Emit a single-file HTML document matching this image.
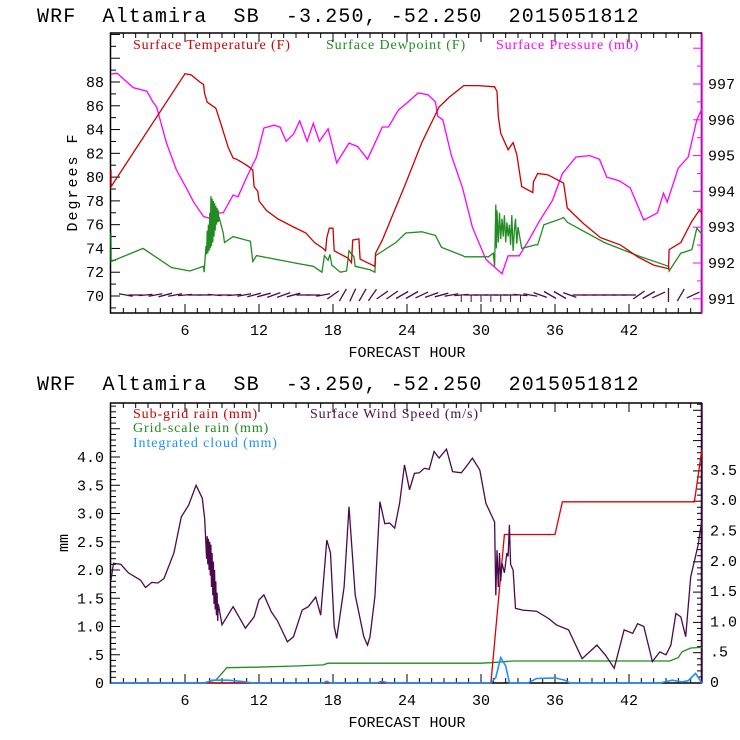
<!DOCTYPE html>
<html><head><meta charset="utf-8"><style>
html,body{margin:0;padding:0;background:#fff;width:740px;height:740px;overflow:hidden}
svg{display:block}
.t{font-family:"Liberation Mono",monospace;font-size:20px;fill:#000;white-space:pre;letter-spacing:1.1px}
.tk{font-family:"Liberation Mono",monospace;font-size:15px;fill:#000}
.lg{font-family:"Liberation Serif",serif;font-size:14px;letter-spacing:0.9px}
</style></head><body>
<svg id="c" width="740" height="740"></svg>
<script>
// ---- data (top panel) ----
const tempH=[0,0.01,6,6.5,7.2,7.5,7.6,7.8,8.5,8.9,9.5,9.9,10.2,11,11.5,11.6,11.9,12,12.6,13.5,14.8,15.8,16.5,17.2,17.4,17.5,17.7,18,18.1,19.2,19.5,19.6,20.1,20.2,21,21.4,21.45,22,23.9,25.2,26.6,27.4,28.6,29.8,31.1,31.3,31.4,31.6,32.2,32.6,32.9,33.3,34.2,34.25,34.6,35.4,36.7,37,38.3,39.7,41.3,42.7,44,45.2,45.25,46.2,47.1,47.7,47.9];
const tempV=[80.6,79.2,88.7,88.6,88,87.8,87,86.3,85.8,84.5,82.5,81.6,81.5,81,80.6,79.2,78.8,78,77.2,76.5,75.8,75.3,74.5,74,73.8,74.9,75.7,75.7,73.8,73.2,72.8,74.7,74.8,73.1,72.7,72.5,73.6,74.7,79.5,82.9,85.9,86.7,87.7,87.7,87.6,87.2,85.1,83.7,82.3,82.9,81.9,79.2,78.7,79.6,80.3,80.2,79.5,77.4,76.1,74.9,74.3,73.3,72.6,72.3,73.9,74.5,76.3,77.2,77];
const dewH=[0,0.01,2.6,4.9,6.4,7.5,7.55,7.7,7.75,7.8,7.85,7.9,7.95,8.0,8.05,8.1,8.15,8.2,8.25,8.3,8.35,8.4,8.45,8.5,8.55,8.6,8.65,8.7,8.75,8.8,9.1,9.2,9.9,11.3,11.5,11.8,15.3,16.4,17.1,17.3,17.6,17.75,17.9,18.6,19.1,19.3,19.7,19.8,21,21.4,21.45,23.1,23.9,25.2,26.3,26.8,28.5,28.7,30.6,31.0,31.1,31.2,31.25,31.3,31.4,31.5,31.6,31.7,31.8,31.9,32.0,32.1,32.2,32.3,32.4,32.5,32.6,32.7,32.8,32.9,33.0,33.3,34.4,34.6,35.1,36.5,36.7,37,40,42.7,45.2,45.25,46.2,47.1,47.5,47.9];
const dewV=[75.3,72.9,74.0,72.4,72.1,72.5,72.0,74.2,73.5,75.5,73.6,76,73.8,77,74,78.4,74.2,78.2,74.5,78,75,77.8,75.5,77.6,76,77.4,76.2,77.2,76.4,76.5,75.3,74.5,75,74.6,72.9,73.4,72.7,72.5,72,73.4,73,73.5,72.6,72,72.1,73.8,73.3,72.5,72.2,72.0,73.4,74.5,75.3,75.4,75.1,74.1,73.4,73.3,73.3,73.6,72.5,77.7,74,77.2,74.5,77,74.8,76.5,75,76.8,74.5,76.2,75,76,74.3,76.8,73.8,75.4,76.5,74.4,75.8,74,74.3,74.3,76,76.5,76.6,76.2,74.5,73.4,72.5,72.1,73.6,73.9,75.7,75.2,75.7];
const presH=[0,0.5,1.8,2.9,3.4,3.7,4.5,5.3,6.1,6.7,7.5,8.0,8.6,9.1,9.9,10.3,11.0,11.8,12.4,13.2,13.7,14.2,14.8,15.3,15.9,16.4,16.9,17.6,18.3,19.3,20,20.8,22,22.5,23.3,24.1,24.9,25.7,26.3,26.5,26.9,27.6,28.5,29.3,30.4,31.7,32.2,33.1,33.9,34.7,35.8,36.6,37.7,38.8,39.6,40.2,41.2,42.1,43.2,44.3,44.8,45.1,46,46.8,47.5,47.9];
const presV=[997.28,997.3,996.9,996.8,996.5,996.36,995.35,994.6,994.1,993.7,993.3,993.25,993.4,993.4,993.9,993.85,994.4,994.96,995.77,995.85,995.8,995.4,995.6,995.97,995.4,995.9,995.4,995.75,994.8,995.35,995.25,994.9,995.8,995.8,996.27,996.5,996.75,996.7,996.5,996.1,996.0,995.0,994.1,993.0,992.1,991.7,992.2,992.2,992.65,993.15,993.75,994.5,994.96,995.0,994.9,994.4,994.3,994.1,993.2,993.4,993.95,993.7,994.65,994.96,996.0,996.3];
const barbH=[1.2,2,2.8,3.6,4.4,5.2,6,6.8,7.6,8.4,9.2,10,10.8,11.6,12.4,13.2,14,14.8,15.6,16.4,17.2,18,18.8,19.6,20.4,21.2,22,22.8,23.6,24.4,25.2,26,26.8,27.6,28.4,29.2,30,30.8,31.6,32.4,33.2,34,34.8,35.6,36.4,37.2,38,38.8,39.6,40.4,41.2,42,42.8,43.6,44.4,45.2,46.2,47.2];
const barbA=[-10,0,5,10,15,10,5,0,0,-5,0,5,10,15,15,20,20,15,0,0,10,35,60,65,60,55,35,35,30,30,25,20,15,10,5,0,0,0,0,0,-5,-10,-20,-30,-30,-20,0,0,0,0,0,0,35,30,25,90,60,25];
// ---- data (bottom panel) ----
const windH=[0,0.2,0.8,1.4,2.4,2.8,3.3,3.8,4.3,5.1,5.7,6.3,6.9,7.4,7.6,7.75,7.8,7.85,7.9,7.95,8.0,8.05,8.1,8.15,8.2,8.25,8.3,8.35,8.4,8.45,8.5,8.55,8.6,8.65,8.7,9.0,9.9,10.9,11.6,12.0,12.4,13,13.5,14.3,14.8,15.5,16,16.6,17,17.5,17.8,18.1,18.3,18.9,19.3,19.8,20.5,20.8,21.0,21.4,21.8,22.2,22.6,23,23.4,23.8,24.2,24.6,25,25.4,25.8,26.2,26.6,27.2,27.7,28.4,28.8,29.3,29.9,30.4,31.1,31.2,31.3,31.4,31.5,31.6,31.7,31.9,32.1,32.2,32.3,32.4,32.6,32.8,33.4,34.5,35.5,36.1,37.1,38.2,39.4,40.1,40.8,41.6,42.3,42.7,43.2,43.9,44.5,45,45.4,45.8,46.2,46.6,47,47.6,47.9];
const windV=[1.82,2.12,2.1,1.95,1.82,1.69,1.78,1.77,1.85,2.3,2.94,3.15,3.5,3.27,2.9,2.2,2.6,2.1,2.55,2.0,2.5,1.9,2.45,1.7,2.3,1.55,2.15,1.4,2.0,1.3,1.8,1.2,1.6,1.1,1.4,1.03,1.35,0.97,1.17,1.47,1.56,1.26,1.1,0.73,0.82,1.29,1.35,1.52,1.2,2.53,2.3,1.0,0.79,1.7,3.12,1.56,0.82,0.67,0.82,1.53,3.21,2.82,2.83,2.74,3.18,3.86,3.42,3.71,3.72,3.8,3.78,4.1,3.98,4.14,3.74,3.72,3.83,3.98,3.77,3.18,2.85,1.55,2.35,1.7,2.3,1.8,2.12,1.95,2.3,2.24,2.8,2.1,2.0,1.32,1.29,1.27,1.14,1.03,0.94,0.43,0.67,0.49,0.26,0.94,0.88,1.05,1.0,0.38,0.55,0.5,0.67,1.23,1.17,0.82,1.88,2.44,2.88];
const subH=[0,30.8,31.9,36.0,36.6,47.3,47.9];
const subV=[0,0,2.45,2.45,2.99,2.99,3.85];
const gridH=[0,7.4,8.5,9.4,11.7,15,17.2,17.6,30,30.8,32.6,45.3,46,46.3,47,47.9];
const gridV=[0,0,0.05,0.27,0.28,0.3,0.32,0.35,0.35,0.36,0.39,0.39,0.45,0.55,0.62,0.63];
const cloudH=[0,7.6,8.2,9.5,10.5,11.6,17.2,17.5,17.8,21.5,22,22.5,30.8,31.2,31.6,32.0,32.3,33.8,34.5,36,36.8,37.2,44.5,45.5,46.3,46.8,47.4,47.9];
const cloudV=[0,0,0.05,0.05,0.03,0,0,0.03,0,0,0.03,0,0,0.1,0.45,0.3,0,0,0.08,0.09,0.05,0,0,0.05,0.02,0.04,0.17,0];
const tempTicks=[70,72,74,76,78,80,82,84,86,88];
const presTicks=[991,992,993,994,995,996,997];
const mmTicks=[0,0.5,1,1.5,2,2.5,3,3.5,4];
const mmLabels=["0",".5","1.0","1.5","2.0","2.5","3.0","3.5","4.0"];
const rTicks=[0,0.5,1,1.5,2,2.5,3,3.5];
const rLabels=["0",".5","1.0","1.5","2.0","2.5","3.0","3.5"];
const hourTicks=[6,12,18,24,30,36,42];

const NS="http://www.w3.org/2000/svg";
const svg=document.getElementById('c');
function el(tag,attrs,parent,txt){const e=document.createElementNS(NS,tag);for(const k in attrs)e.setAttribute(k,attrs[k]);if(txt!==undefined)e.textContent=txt;(parent||svg).appendChild(e);return e;}
const X0=111,X1=703;
const xh=h=>X0+(X1-X0)*h/48;
const yT=v=>82+(88-v)*214/18;
const yP=v=>84+(997-v)*35.8;
const yM=v=>683-v*56.5;
const yR=v=>683-v*60.6;
function line(H,V,yf,color,name,w){
  let d='';for(let i=0;i<H.length;i++)d+=(i?'L':'M')+xh(H[i]).toFixed(1)+','+yf(V[i]).toFixed(1);
  const p=el('path',{d:d,fill:'none',stroke:color,'stroke-width':w||1.3});
  
  
}
function frame(top,bot,rightColor,name){
  const g=el('g',{});
  
  
  el('rect',{x:X0-0.5,y:top,width:X1-X0-1,height:bot-top,fill:'none',stroke:'#000','stroke-width':1.5},g);
  el('line',{x1:X1-1,y1:top,x2:X1-1,y2:bot,stroke:rightColor,'stroke-width':1.5},g);
  for(let h=1;h<48;h++){const x=xh(h);const L=h%6==0?9:5;
    el('line',{x1:x,y1:bot,x2:x,y2:bot-L,stroke:'#000'},g);
    el('line',{x1:x,y1:top,x2:x,y2:top+L,stroke:'#000'},g);}
  hourTicks.forEach(h=>{const t=el('text',{x:xh(h),y:bot+22,'text-anchor':'middle',class:'tk','font-size':'17'},g,String(h));
    });
  const xt=el('text',{x:407,y:bot+44,'text-anchor':'middle',class:'tk','font-size':'19'},g,'FORECAST HOUR');
  
  return g;
}
// titles
[22,390].forEach((y,i)=>{const t=el('text',{x:37,y:y,class:'t'},svg,'WRF  Altamira  SB  -3.250, -52.250  2015051812');
  });

// ---- top panel ----
const g1=frame(33,313,'#ff00ff','top-plot-frame');
for(let v=69;v<=93;v++){const y=yT(v);if(y<33||y>313)continue;el('line',{x1:X0,y1:y,x2:X0+(v%2==0?9:5),y2:y,stroke:'#000'},g1);}
tempTicks.forEach(v=>{const t=el('text',{x:104,y:yT(v)+5,'text-anchor':'end',class:'tk'},g1,String(v));
  });
for(let v=990.5;v<=998;v+=0.5){const y=yP(v);if(y<33||y>313)continue;el('line',{x1:X1-1,y1:y,x2:X1-1-(v%1==0?9:5),y2:y,stroke:'#ff00ff'},g1);}
presTicks.forEach(v=>{const t=el('text',{x:708,y:yP(v)+5,class:'tk'},g1,String(v));
  });
const yt=el('text',{x:0,y:0,class:'tk','font-size':'21',transform:'translate(77,182) rotate(-90)','text-anchor':'middle','letter-spacing':'2'},svg,'Degrees F');

line(presH,presV,yP,'#ff00ff','pressure-line');
line(dewH,dewV,yT,'#228b22','dewpoint-line');
line(tempH,tempV,yT,'#cc0000','temperature-line');
barbH.forEach((h,i)=>{const a=barbA[i]*Math.PI/180,cx=xh(h),cy=yT(70)-1,L=7;
  const b=el('line',{x1:cx-L*Math.cos(a),y1:cy+L*Math.sin(a),x2:cx+L*Math.cos(a),y2:cy-L*Math.sin(a),stroke:'#4b0a4b','stroke-width':1.3});
  
  if(Math.abs(barbA[i])<6&&h>28&&h<34)el('line',{x1:cx,y1:cy,x2:cx,y2:cy+7,stroke:'#4b0a4b'});
});
[['Surface Temperature (F)','#cc0000',133],['Surface Dewpoint (F)','#228b22',326],['Surface Pressure (mb)','#ff00ff',496]].forEach(l=>{
  const t=el('text',{x:l[2],y:49,class:'lg',fill:l[1]},svg,l[0]);});

// ---- bottom panel ----
const g2=frame(403,683,'#4b0a4b','bottom-plot-frame');
for(let k=1;k<50;k++){const v=k/10,y=yM(v);if(y<403)continue;el('line',{x1:X0,y1:y,x2:X0+(k%5==0?9:5),y2:y,stroke:'#000'},g2);}
mmTicks.forEach((v,i)=>{const t=el('text',{x:104,y:yM(v)+5,'text-anchor':'end',class:'tk'},g2,mmLabels[i]);
  });
for(let k=1;k<47;k++){const v=k/10,y=yR(v);if(y<403)continue;el('line',{x1:X1-1,y1:y,x2:X1-1-(k%5==0?9:5),y2:y,stroke:'#000'},g2);}
rTicks.forEach((v,i)=>{const t=el('text',{x:710,y:yR(v)+4,class:'tk','font-size':'12'},g2,rLabels[i]);
  });
const yt2=el('text',{x:0,y:0,class:'tk','font-size':'17',transform:'translate(68,543) rotate(-90)','text-anchor':'middle'},svg,'mm');

line(gridH,gridV,yM,'#228b22','grid-scale-rain-line');
line(subH,subV,yR,'#dd0000','sub-grid-rain-line');
line(windH,windV,yM,'#4b0a4b','wind-speed-line');
line(cloudH,cloudV,yM,'#1e90ff','integrated-cloud-line',1.6);
[['Sub-grid rain (mm)','#cc0000',133,418],['Surface Wind Speed (m/s)','#4b0a4b',310,418],['Grid-scale rain (mm)','#228b22',133,432],['Integrated cloud (mm)','#1e90ff',133,447]].forEach(l=>{
  const t=el('text',{x:l[2],y:l[3],class:'lg',fill:l[1]},svg,l[0]);});
</script>
</body></html>
